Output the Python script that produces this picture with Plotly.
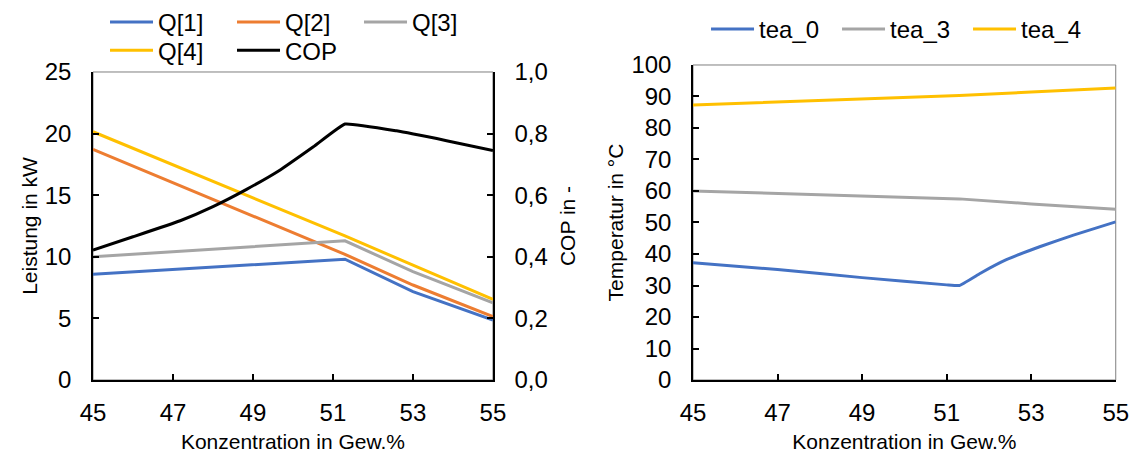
import plotly.graph_objects as go

# ---- data ----
conc_q = [45, 47, 49, 51.3, 53, 55]
q1 = [8.58, 8.97, 9.36, 9.8, 7.17, 4.87]
q2 = [18.72, 16.0, 13.3, 10.2, 7.71, 5.14]
q3 = [10.0, 10.4, 10.85, 11.3, 8.79, 6.27]
q4 = [20.15, 17.46, 14.77, 11.7, 9.32, 6.55]

conc_cop = [45, 46, 47.18, 48, 48.84, 49.68, 50.51, 51.3, 52.59, 53.84, 55]
cop = [0.422, 0.465, 0.517, 0.563, 0.619, 0.682, 0.757, 0.831, 0.809, 0.777, 0.745]

conc_t0 = [45, 47, 49, 51, 51.3, 51.8, 52.4, 53.2, 54.0, 55]
tea_0 = [37.2, 35.1, 32.5, 30.2, 30.0, 33.9, 38.1, 42.3, 46.0, 50.2]
conc_t = [45, 51.3, 53, 55]
tea_3 = [60.0, 57.5, 55.9, 54.2]
tea_4 = [87.3, 90.3, 91.4, 92.7]

x_ticks = [45, 47, 49, 51, 53, 55]

BLUE, ORANGE, GRAY, YELLOW = "#4472C4", "#ED7D31", "#A5A5A5", "#FFC000"
FONT = "Liberation Sans, Arial, sans-serif"
LW = 3

fig = go.Figure()
fig.add_trace(go.Scatter(x=conc_q, y=q1, name="Q[1]", mode="lines", line=dict(color=BLUE, width=LW), xaxis="x", yaxis="y", legend="legend"))
fig.add_trace(go.Scatter(x=conc_q, y=q2, name="Q[2]", mode="lines", line=dict(color=ORANGE, width=LW), xaxis="x", yaxis="y", legend="legend"))
fig.add_trace(go.Scatter(x=conc_q, y=q3, name="Q[3]", mode="lines", line=dict(color=GRAY, width=LW), xaxis="x", yaxis="y", legend="legend"))
fig.add_trace(go.Scatter(x=conc_q, y=q4, name="Q[4]", mode="lines", line=dict(color=YELLOW, width=LW), xaxis="x", yaxis="y", legend="legend2"))
fig.add_trace(go.Scatter(x=conc_cop, y=cop, name="COP", mode="lines", line=dict(color="black", width=LW, shape="spline", smoothing=0.3), xaxis="x", yaxis="y2", legend="legend2"))

fig.add_trace(go.Scatter(x=conc_t0, y=tea_0, name="tea_0", mode="lines", line=dict(color=BLUE, width=LW, shape="spline", smoothing=0.3), xaxis="x2", yaxis="y3", legend="legend3"))
fig.add_trace(go.Scatter(x=conc_t, y=tea_3, name="tea_3", mode="lines", line=dict(color=GRAY, width=LW), xaxis="x2", yaxis="y3", legend="legend3"))
fig.add_trace(go.Scatter(x=conc_t, y=tea_4, name="tea_4", mode="lines", line=dict(color=YELLOW, width=LW), xaxis="x2", yaxis="y3", legend="legend3"))

axis_common = dict(showgrid=False, zeroline=False, showline=True, linecolor="black", linewidth=1.5,
                   ticks="inside", ticklen=6, tickcolor="black", tickwidth=1.5, automargin=False,
                   tickfont=dict(family=FONT, size=24, color="black"))
title_font = dict(family=FONT, size=21, color="black")

leg_common = dict(orientation="h", xref="container", yref="container", xanchor="left", yanchor="top",
                  font=dict(family=FONT, size=24, color="black"), entrywidthmode="pixels",
                  itemwidth=43, bgcolor="rgba(0,0,0,0)", borderwidth=0)

fig.update_layout(
    width=1134, height=460, margin=dict(l=0, r=0, t=0, b=0, autoexpand=False),
    paper_bgcolor="white", plot_bgcolor="white",
    separators=",.",
    font=dict(family=FONT, size=21, color="black"),
    xaxis=dict(domain=[0.082, 0.4347], anchor="y", range=[45, 55], tickvals=x_ticks, ticklabelstandoff=10,
               title=dict(text="Konzentration in Gew.%", font=title_font, standoff=10), **axis_common),
    yaxis=dict(domain=[0.1739, 0.8435], anchor="x", range=[0, 25], dtick=5, ticklabelstandoff=15,
               title=dict(text="Leistung in kW", font=title_font, standoff=1), **axis_common),
    yaxis2=dict(overlaying="y", anchor="x", side="right", range=[0, 1.0], dtick=0.2, tickformat=".1f",
                ticklabelstandoff=15,
                title=dict(text="COP in -", font=title_font, standoff=13), **axis_common),
    xaxis2=dict(domain=[0.6111, 0.9839], anchor="y3", range=[45, 55], tickvals=x_ticks, ticklabelstandoff=10,
                title=dict(text="Konzentration in Gew.%", font=title_font, standoff=10), **axis_common),
    yaxis3=dict(domain=[0.1739, 0.8587], anchor="x2", range=[0, 100], dtick=10, ticklabelstandoff=15,
                title=dict(text="Temperatur in °C", font=title_font, standoff=2), **axis_common),
    legend=dict(x=0.0926, y=1.0, entrywidth=69, **leg_common),
    legend2=dict(x=0.0926, y=0.939, entrywidth=69, **leg_common),
    legend3=dict(x=0.6226, y=0.985, entrywidth=73, **leg_common),
    shapes=[
        dict(type="rect", xref="x domain", yref="y domain", x0=0, x1=1, y0=0, y1=1,
             line=dict(color="#7F7F7F", width=1), layer="below"),
        dict(type="rect", xref="x2 domain", yref="y3 domain", x0=0, x1=1, y0=0, y1=1,
             line=dict(color="#7F7F7F", width=1), layer="below"),
    ],
)

fig.write_html("out.html")
